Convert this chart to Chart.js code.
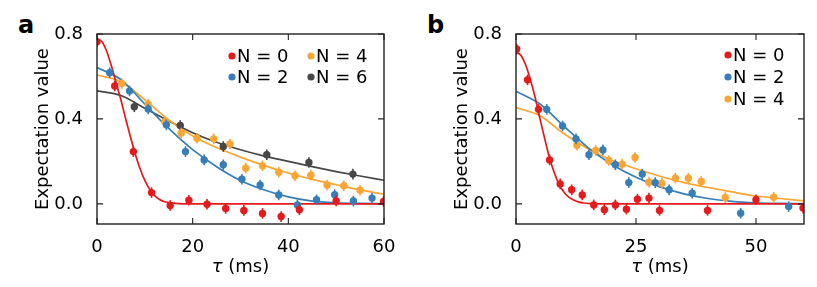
<!DOCTYPE html>
<html>
<head>
<meta charset="utf-8">
<script src="https://cdn.jsdelivr.net/npm/chart.js@4.4.0/dist/chart.umd.min.js"></script>
<style>
  body { margin: 0; background: #fff; width: 817px; height: 287px; position: relative; overflow: hidden; font-family: "DejaVu Sans", sans-serif; }
  canvas { position: absolute; top: 0; }
  #ca { left: 0; }
  #cb { left: 419px; }
  .lbl { position: absolute; font-weight: bold; font-size: 24px; line-height: 24px; }
</style>
</head>
<body>
<div class="lbl" style="left:18px;top:13px">a</div>
<div class="lbl" style="left:427px;top:13px">b</div>
<canvas id="ca" width="408" height="287"></canvas>
<canvas id="cb" width="398" height="287"></canvas>
<script>
// tick labels
const X_TICKS_A = [0, 20, 40, 60];
const X_TICKS_B = [0, 25, 50];
const Y_TICKS = [0.0, 0.4, 0.8];
const LABELS = ['N = 0', 'N = 2', 'N = 4', 'N = 6'];
const ERR = 0.025;

// panel a, measured points
const A_N0_T = [0, 3.7, 7.6, 11.4, 15.3, 19.2, 23.0, 26.9, 30.7, 34.6, 38.5, 42.3, 50.0, 59.9];
const A_N0_V = [0.764, 0.555, 0.246, 0.053, -0.008, 0.017, -0.002, -0.022, -0.031, -0.045, -0.060, -0.028, 0.014, 0.011];
const A_N2_T = [2.65, 6.8, 10.7, 14.5, 18.5, 22.4, 26.4, 30.3, 34.1, 38.0, 41.9, 45.9, 49.7, 53.6, 57.5];
const A_N2_V = [0.618, 0.532, 0.447, 0.372, 0.246, 0.207, 0.184, 0.116, 0.089, 0.042, -0.005, 0.019, 0.043, 0.013, 0.027];
const A_N4_T = [5.2, 10.7, 14.2, 17.6, 20.9, 24.4, 27.8, 31.1, 34.6, 38.0, 41.4, 44.7, 48.1, 51.6, 55.0];
const A_N4_V = [0.567, 0.469, 0.387, 0.333, 0.309, 0.306, 0.282, 0.168, 0.179, 0.149, 0.132, 0.135, 0.089, 0.085, 0.064];
const A_N6_T = [7.8, 17.4, 26.4, 35.5, 44.3, 53.5];
const A_N6_V = [0.457, 0.369, 0.270, 0.231, 0.195, 0.140];

// panel a, fitted curves
const FIT_T = [0, 5, 10, 15, 20, 25, 30, 35, 40, 45, 50, 55, 60];
const RED_FIT_T = [0, 1, 2, 3, 4, 5, 6, 7, 8, 9, 10, 11, 12, 13, 14, 16, 18, 60];
const A_N0_FIT = [0.775, 0.765, 0.72, 0.65, 0.57, 0.49, 0.40, 0.315, 0.235, 0.165, 0.11, 0.068, 0.04, 0.022, 0.011, 0.003, 0, 0];
const A_N2_FIT = [0.642, 0.585, 0.47, 0.355, 0.255, 0.175, 0.11, 0.065, 0.033, 0.013, 0.005, 0.002, 0];
const A_N4_FIT = [0.607, 0.575, 0.49, 0.395, 0.32, 0.265, 0.22, 0.18, 0.145, 0.115, 0.09, 0.066, 0.045];
const A_N6_FIT = [0.532, 0.51, 0.45, 0.39, 0.335, 0.29, 0.255, 0.225, 0.2, 0.175, 0.152, 0.131, 0.111];

// panel b, measured points
const B_N0_T = [0.14, 2.4, 4.7, 7.0, 9.2, 11.6, 13.8, 16.2, 18.4, 20.7, 23.0, 25.3, 27.7, 29.9, 39.9, 50.0, 59.8];
const B_N0_V = [0.729, 0.584, 0.445, 0.207, 0.094, 0.066, 0.042, -0.005, -0.028, -0.005, -0.025, 0.022, 0.027, -0.031, -0.031, 0.019, -0.020];
const B_N2_T = [6.4, 9.7, 12.5, 15.2, 18.1, 20.7, 23.5, 26.3, 29.0, 31.9, 36.7, 46.8, 56.8];
const B_N2_V = [0.445, 0.367, 0.306, 0.231, 0.254, 0.184, 0.100, 0.140, 0.100, 0.066, 0.050, -0.044, -0.013];
const B_N4_T = [12.7, 16.6, 19.3, 22.1, 24.8, 27.7, 30.4, 33.2, 35.9, 38.6, 43.6, 53.7];
const B_N4_V = [0.276, 0.251, 0.204, 0.187, 0.218, 0.102, 0.097, 0.121, 0.121, 0.105, 0.030, 0.031];

// panel b, fitted curves
const B_N0_FIT = [0.715, 0.70, 0.655, 0.585, 0.50, 0.40, 0.305, 0.215, 0.145, 0.09, 0.055, 0.032, 0.018, 0.009, 0.004, 0.001, 0, 0];
const B_N2_FIT = [0.53, 0.47, 0.365, 0.265, 0.185, 0.125, 0.08, 0.047, 0.025, 0.012, 0.005, 0.002, 0];
const B_N4_FIT = [0.453, 0.415, 0.33, 0.26, 0.205, 0.165, 0.13, 0.10, 0.077, 0.056, 0.037, 0.025, 0.014];

const COLORS = ['#e41a1c', '#377eb8', '#fba535', '#474747'];
const FONT = 'DejaVu Sans';

function pts(xs, ys) {
    return xs.map((x, i) => ({x: x, y: ys[i]}));
}

function pointSet(xs, ys, color, label) {
    return {
        data: pts(xs, ys), showLine: false, pointRadius: 3.7, pointHoverRadius: 3.7,
        backgroundColor: color, borderColor: color, pointBorderWidth: 0,
        errBar: ERR, legendLabel: label, order: 1, clip: 0
    };
}

function fitSet(xs, ys, color) {
    return {
        data: pts(xs, ys), showLine: true, pointRadius: 0, borderWidth: 1.7,
        borderColor: color, backgroundColor: color, cubicInterpolationMode: 'monotone',
        order: 2, clip: 0
    };
}

const errorBars = {
    id: 'errorBars',
    beforeDatasetDraw(chart, args) {
        const ds = chart.data.datasets[args.index];
        if (!ds.errBar) return;
        const {ctx, chartArea: a, scales} = chart;
        ctx.save();
        ctx.beginPath();
        ctx.rect(a.left, a.top, a.width, a.height);
        ctx.clip();
        ctx.strokeStyle = ds.backgroundColor;
        ctx.lineWidth = 1.6;
        ds.data.forEach(p => {
            const x = scales.x.getPixelForValue(p.x);
            ctx.beginPath();
            ctx.moveTo(x, scales.y.getPixelForValue(p.y - ds.errBar));
            ctx.lineTo(x, scales.y.getPixelForValue(p.y + ds.errBar));
            ctx.stroke();
        });
        ctx.restore();
    }
};

// inward ticks on all four sides, box frame and the x title with italic tau
const frame = {
    id: 'frame',
    afterDraw(chart) {
        const {ctx, chartArea: a, scales} = chart;
        ctx.save();
        ctx.strokeStyle = '#222';
        ctx.lineWidth = 1.1;
        scales.x.ticks.forEach(t => {
            const x = scales.x.getPixelForValue(t.value);
            ctx.beginPath();
            ctx.moveTo(x, a.bottom); ctx.lineTo(x, a.bottom - 6);
            ctx.moveTo(x, a.top); ctx.lineTo(x, a.top + 6);
            ctx.stroke();
        });
        scales.y.ticks.forEach(t => {
            const y = scales.y.getPixelForValue(t.value);
            ctx.beginPath();
            ctx.moveTo(a.left, y); ctx.lineTo(a.left + 6, y);
            ctx.moveTo(a.right, y); ctx.lineTo(a.right - 6, y);
            ctx.stroke();
        });
        ctx.lineWidth = 1.4;
        ctx.strokeRect(a.left, a.top, a.width, a.height);

        ctx.fillStyle = '#000';
        ctx.textBaseline = 'middle';
        ctx.textAlign = 'left';
        const tau = 'τ', rest = ' (ms)';
        ctx.font = 'italic 18px "' + FONT + '"';
        const w1 = ctx.measureText(tau).width;
        ctx.font = '18px "' + FONT + '"';
        const w2 = ctx.measureText(rest).width;
        const x0 = (a.left + a.right) / 2 - (w1 + w2) / 2;
        ctx.font = 'italic 18px "' + FONT + '"';
        ctx.fillText(tau, x0, 267);
        ctx.font = '18px "' + FONT + '"';
        ctx.fillText(rest, x0 + w1, 267);
        ctx.restore();
    }
};

const inLegend = {
    id: 'inLegend',
    afterDraw(chart, args, opts) {
        const {ctx, chartArea: a} = chart;
        const items = chart.data.datasets.filter(d => d.legendLabel);
        ctx.save();
        ctx.font = '18px "' + FONT + '"';
        ctx.textBaseline = 'middle';
        items.forEach((d, i) => {
            const col = Math.floor(i / opts.rows), row = i % opts.rows;
            const x = a.left + opts.x + col * opts.colW;
            const y = a.top + opts.y + row * opts.rowH;
            ctx.fillStyle = d.backgroundColor;
            ctx.beginPath();
            ctx.arc(x, y, 3.6, 0, Math.PI * 2);
            ctx.fill();
            ctx.fillStyle = '#000';
            ctx.fillText(d.legendLabel, x + 5, y + 1);
        });
        ctx.restore();
    }
};

function makeOptions(xTicks, legendOpts, padRight) {
    return {
        responsive: false,
        animation: false,
        layout: {padding: {top: 34, right: padRight, left: 0, bottom: 0}},
        plugins: {
            legend: {display: false},
            tooltip: {enabled: false},
            inLegend: legendOpts
        },
        scales: {
            x: {
                type: 'linear', min: 0, max: 60,
                grid: {display: false}, border: {display: false},
                afterBuildTicks: s => { s.ticks = xTicks.map(v => ({value: v})); },
                afterFit: s => { s.height = 63; },
                ticks: {padding: 5, color: '#000', font: {size: 18, family: FONT}, callback: v => String(v)}
            },
            y: {
                type: 'linear', min: -0.095, max: 0.8,
                grid: {display: false}, border: {display: false},
                afterBuildTicks: s => { s.ticks = Y_TICKS.map(v => ({value: v})); },
                afterFit: s => { s.width = 97; },
                ticks: {padding: 6, color: '#000', font: {size: 18, family: FONT}, callback: v => v.toFixed(1)},
                title: {display: true, text: 'Expectation value', color: '#000', font: {size: 18, family: FONT}, padding: {top: 33, bottom: 0}}
            }
        }
    };
}

new Chart(document.getElementById('ca').getContext('2d'), {
    type: 'scatter',
    data: {
        datasets: [
            pointSet(A_N0_T, A_N0_V, COLORS[0], LABELS[0]),
            pointSet(A_N2_T, A_N2_V, COLORS[1], LABELS[1]),
            pointSet(A_N4_T, A_N4_V, COLORS[2], LABELS[2]),
            pointSet(A_N6_T, A_N6_V, COLORS[3], LABELS[3]),
            fitSet(RED_FIT_T, A_N0_FIT, COLORS[0]),
            fitSet(FIT_T, A_N2_FIT, COLORS[1]),
            fitSet(FIT_T, A_N4_FIT, COLORS[2]),
            fitSet(FIT_T, A_N6_FIT, COLORS[3])
        ]
    },
    options: makeOptions(X_TICKS_A, {x: 135, y: 22, rows: 2, rowH: 21, colW: 79}, 24),
    plugins: [errorBars, frame, inLegend]
});

new Chart(document.getElementById('cb').getContext('2d'), {
    type: 'scatter',
    data: {
        datasets: [
            pointSet(B_N0_T, B_N0_V, COLORS[0], LABELS[0]),
            pointSet(B_N2_T, B_N2_V, COLORS[1], LABELS[1]),
            pointSet(B_N4_T, B_N4_V, COLORS[2], LABELS[2]),
            fitSet(RED_FIT_T, B_N0_FIT, COLORS[0]),
            fitSet(FIT_T, B_N2_FIT, COLORS[1]),
            fitSet(FIT_T, B_N4_FIT, COLORS[2])
        ]
    },
    options: makeOptions(X_TICKS_B, {x: 212, y: 21, rows: 3, rowH: 22, colW: 0}, 13),
    plugins: [errorBars, frame, inLegend]
});
</script>
</body>
</html>
